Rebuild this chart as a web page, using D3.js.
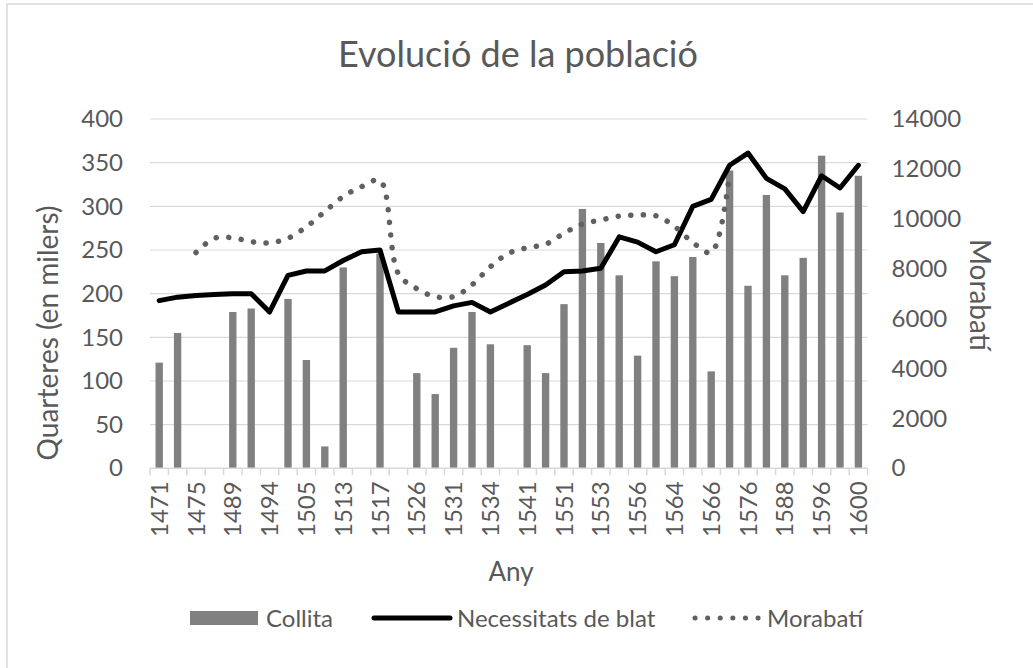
<!DOCTYPE html>
<html>
<head>
<meta charset="utf-8">
<script src="https://cdn.jsdelivr.net/npm/d3@7"></script>
<style>
  body { margin: 0; background: #fff; }
  text { font-family: Lato, "Open Sans", sans-serif; fill: #595959; }
</style>
</head>
<body>
<div class="chart"></div>
<script>
// categories (odd ones are not labelled in the picture)
const years = [1471,1473,1475,1480,1489,1491,1494,1500,1505,1510,1513,1515,1517,1520,1526,1529,1531,1533,1534,1538,
               1541,1545,1551,1552,1553,1555,1556,1560,1564,1565,1566,1570,1576,1580,1588,1590,1596,1598,1600];
// Collita (quarteres, milers)
const collita = [121,155,null,null,179,183,null,194,124,25,230,null,246,null,109,85,138,179,142,null,
                 141,109,188,297,258,221,129,237,220,242,111,341,209,313,221,241,358,293,335];
// Necessitats de blat (quarteres, milers)
const necessitats = [192,196,198,199,200,200,179,221,226,226,238,248,250,179,179,179,186,190,179,189,
                     199,210,225,226,229,265,259,248,256,300,308,347,361,332,320,294,335,321,347];
// Morabatí (right axis)
const morabati = [null,null,8650,9220,9240,9080,9040,9220,9680,10290,10890,11290,11530,7800,7200,6880,6880,7350,8080,8620,
                  8840,8980,9420,9790,9950,10110,10150,10120,9700,9050,8650,11850,null,null,null,null,null,null,null];
const leftTicks = [0,50,100,150,200,250,300,350,400];
const rightTicks = [0,2000,4000,6000,8000,10000,12000,14000];

const W = 1033, H = 668;
const svg = d3.select('.chart')
    .append('svg')
        .attr("width", W)
        .attr("height", H)

// outer frame
svg.append("rect")
    .attr("x", 7).attr("y", 4)
    .attr("width", W + 20).attr("height", H + 20)
    .attr("fill", "none")
    .attr("stroke", "#d9d9d9")
    .attr("stroke-width", 1.5);

const plotLeft = 150, plotRight = 867.6, plotTop = 119, plotBase = 468.3;

const x = d3.scaleBand()
    .domain(years)
    .range([plotLeft, plotRight])
    .paddingInner(0.6)
    .paddingOuter(0.3);
const cx = d => x(d) + x.bandwidth() / 2;

const yL = d3.scaleLinear().domain([0, 400]).range([plotBase, plotTop]);
const yR = d3.scaleLinear().domain([0, 14000]).range([plotBase, plotTop]);

// gridlines
svg.selectAll(".grid")
    .data(leftTicks.slice(1))
    .join("line")
    .attr("class", "grid")
    .attr("x1", plotLeft).attr("x2", plotRight)
    .attr("y1", d => yL(d)).attr("y2", d => yL(d))
    .attr("stroke", "#d9d9d9")
    .attr("stroke-width", 1.2);

// left axis
const gL = svg.append("g")
    .attr("transform", `translate(${plotLeft},0)`)
    .call(d3.axisLeft(yL).tickValues(leftTicks).tickSize(0).tickPadding(27));
gL.select(".domain").remove();
gL.selectAll("text").style("font-size", "24px").attr("fill", "#595959").style("font-family", "Lato");

// right axis
const gR = svg.append("g")
    .attr("transform", `translate(${plotRight},0)`)
    .call(d3.axisRight(yR).tickValues(rightTicks).tickSize(0).tickPadding(24).tickFormat(d3.format("d")));
gR.select(".domain").remove();
gR.selectAll("text").style("font-size", "24px").attr("fill", "#595959").style("font-family", "Lato");

// bars
svg.selectAll(".bar")
    .data(years.map((y, i) => ({year: y, v: collita[i]})).filter(d => d.v != null))
    .join("rect")
    .attr("class", "bar")
    .attr("x", d => x(d.year))
    .attr("y", d => yL(d.v))
    .attr("width", x.bandwidth())
    .attr("height", d => plotBase - yL(d.v))
    .attr("fill", "#808080");

// x axis line + category boundary ticks
svg.append("line")
    .attr("x1", plotLeft).attr("x2", plotRight)
    .attr("y1", plotBase).attr("y2", plotBase)
    .attr("stroke", "#d9d9d9").attr("stroke-width", 1.5);
svg.selectAll(".xtick")
    .data(d3.range(years.length + 1))
    .join("line")
    .attr("class", "xtick")
    .attr("x1", i => plotLeft + i * x.step()).attr("x2", i => plotLeft + i * x.step())
    .attr("y1", plotBase).attr("y2", plotBase + 7)
    .attr("stroke", "#d9d9d9").attr("stroke-width", 1.5);

const gX = svg.append("g")
    .attr("transform", `translate(0,${plotBase})`)
    .call(d3.axisBottom(x).tickSize(0).tickFormat((d, i) => i % 2 === 0 ? d : ""));
gX.select(".domain").remove();
gX.selectAll("text")
    .style("font-size", "24px").attr("fill", "#595959").style("font-family", "Lato")
    .attr("text-anchor", "end")
    .attr("transform", "rotate(-90)")
    .attr("x", -13).attr("y", 0).attr("dy", "0.36em");

// Necessitats line
const lineL = d3.line()
    .x(d => cx(d.year))
    .y(d => yL(d.v));
svg.append("path")
    .datum(years.map((y, i) => ({year: y, v: necessitats[i]})))
    .attr("d", lineL)
    .attr("fill", "none")
    .attr("stroke", "#000")
    .attr("stroke-width", 5)
    .attr("stroke-linejoin", "round")
    .attr("stroke-linecap", "round");

// Morabatí dotted smoothed line
const lineR = d3.line()
    .defined(d => d.v != null)
    .x(d => cx(d.year))
    .y(d => yR(d.v))
    .curve(d3.curveCatmullRom.alpha(0.5));
svg.append("path")
    .datum(years.map((y, i) => ({year: y, v: morabati[i]})))
    .attr("d", lineR)
    .attr("fill", "none")
    .attr("stroke", "#606060")
    .attr("stroke-width", 5.5)
    .attr("stroke-dasharray", "0.1 12.5")
    .attr("stroke-linecap", "round");

// titles
svg.append("text")
    .attr("x", 518).attr("y", 67)
    .attr("text-anchor", "middle")
    .style("font-size", "36px")
    .text("Evolució de la població");

svg.append("text")
    .attr("transform", "translate(58,333) rotate(-90)")
    .attr("text-anchor", "middle")
    .style("font-size", "28px")
    .text("Quarteres (en milers)");

svg.append("text")
    .attr("transform", "translate(970,295) rotate(90)")
    .attr("text-anchor", "middle")
    .style("font-size", "28px")
    .text("Morabatí");

svg.append("text")
    .attr("x", 511).attr("y", 581)
    .attr("text-anchor", "middle")
    .style("font-size", "26px")
    .text("Any");

// legend
const lg = svg.append("g");
lg.append("rect").attr("x", 190).attr("y", 611).attr("width", 68).attr("height", 14).attr("fill", "#808080");
lg.append("text").attr("x", 266).attr("y", 627).style("font-size", "24px").text("Collita");
lg.append("line").attr("x1", 374).attr("x2", 450).attr("y1", 618).attr("y2", 618)
    .attr("stroke", "#000").attr("stroke-width", 5).attr("stroke-linecap", "round");
lg.append("text").attr("x", 457).attr("y", 627).style("font-size", "24px").text("Necessitats de blat");
lg.append("line").attr("x1", 695).attr("x2", 760).attr("y1", 618).attr("y2", 618)
    .attr("stroke", "#606060").attr("stroke-width", 5).attr("stroke-dasharray", "0.1 12.5").attr("stroke-linecap", "round");
lg.append("text").attr("x", 767).attr("y", 627).style("font-size", "24px").text("Morabatí");
</script>
</body>
</html>
